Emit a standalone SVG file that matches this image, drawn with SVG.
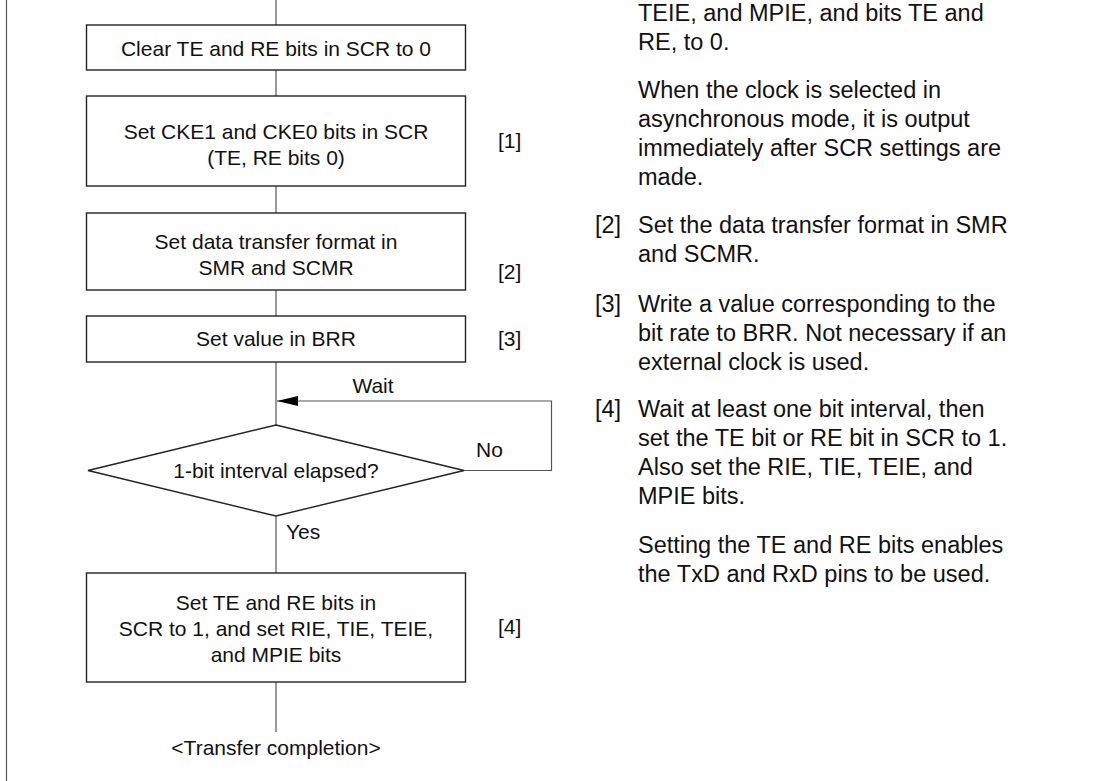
<svg xmlns="http://www.w3.org/2000/svg" width="1093" height="781" viewBox="0 0 1093 781">
<style>
text{font-family:"Liberation Sans",Arial,sans-serif;fill:#111}
.ft{font-size:21px}
.c{text-anchor:middle}
.rt{font-size:23.5px}
.box{fill:#fff;stroke:#222;stroke-width:1.4}
.ln{fill:none;stroke:#555;stroke-width:1.2}
</style>
<defs>
<marker id="ah" markerWidth="22" markerHeight="12" refX="21" refY="5" orient="auto" markerUnits="userSpaceOnUse">
<path d="M0,0 L21,5 L0,10 Z" fill="#000"/>
</marker>
</defs>
<rect width="1093" height="781" fill="#fff"/>
<line x1="6.5" y1="0" x2="6.5" y2="781" stroke="#555" stroke-width="1.2"/>
<g id="connectors">
<line class="ln" x1="276" y1="0" x2="276" y2="25"/>
<line class="ln" x1="276" y1="70" x2="276" y2="96"/>
<line class="ln" x1="276" y1="186" x2="276" y2="213"/>
<line class="ln" x1="276" y1="290" x2="276" y2="316"/>
<line class="ln" x1="276" y1="362" x2="276" y2="425"/>
<line class="ln" x1="276" y1="516" x2="276" y2="573"/>
<line class="ln" x1="276" y1="682" x2="276" y2="732"/>
<path class="ln" d="M464,470.5 H551.5 V401 H277" marker-end="url(#ah)"/>
<text class="ft c" x="373" y="393">Wait</text>
<text class="ft" x="476" y="457">No</text>
<text class="ft" x="286" y="539">Yes</text>
</g>
<g id="n1">
<rect class="box" x="86.5" y="25" width="379" height="45"/>
<text class="ft c" x="276" y="55.5">Clear TE and RE bits in SCR to 0</text>
</g>
<g id="n2">
<rect class="box" x="86.5" y="96" width="379" height="90"/>
<text class="ft c" x="276" y="138.5">Set CKE1 and CKE0 bits in SCR</text>
<text class="ft c" x="276" y="164.5">(TE, RE bits 0)</text>
<text class="ft" x="498" y="147.5">[1]</text>
</g>
<g id="n3">
<rect class="box" x="86.5" y="213" width="379" height="77"/>
<text class="ft c" x="276" y="248.5">Set data transfer format in</text>
<text class="ft c" x="276" y="274.5">SMR and SCMR</text>
<text class="ft" x="498" y="279">[2]</text>
</g>
<g id="n4">
<rect class="box" x="86.5" y="316" width="379" height="46"/>
<text class="ft c" x="276" y="346">Set value in BRR</text>
<text class="ft" x="498" y="345.5">[3]</text>
</g>
<g id="n5">
<polygon class="box" points="276,425 464,470.5 276,516 88,470.5"/>
<text class="ft c" x="276" y="478.3">1-bit interval elapsed?</text>
</g>
<g id="n6">
<rect class="box" x="86.5" y="573" width="379" height="109"/>
<text class="ft c" x="276" y="610">Set TE and RE bits in</text>
<text class="ft c" x="276" y="636">SCR to 1, and set RIE, TIE, TEIE,</text>
<text class="ft c" x="276" y="662">and MPIE bits</text>
<text class="ft" x="498" y="634">[4]</text>
</g>
<g id="n7">
<text class="ft c" x="276" y="755">&lt;Transfer completion&gt;</text>
</g>
<g id="notes">
<text class="rt" x="638" y="20.7">TEIE, and MPIE, and bits TE and</text>
<text class="rt" x="638" y="49.7">RE, to 0.</text>
<text class="rt" x="638" y="97.5">When the clock is selected in</text>
<text class="rt" x="638" y="126.5">asynchronous mode, it is output</text>
<text class="rt" x="638" y="155.5">immediately after SCR settings are</text>
<text class="rt" x="638" y="185">made.</text>
<text class="rt" x="595" y="233">[2]</text>
<text class="rt" x="638" y="233">Set the data transfer format in SMR</text>
<text class="rt" x="638" y="262">and SCMR.</text>
<text class="rt" x="595" y="311.5">[3]</text>
<text class="rt" x="638" y="311.5">Write a value corresponding to the</text>
<text class="rt" x="638" y="340.5">bit rate to BRR. Not necessary if an</text>
<text class="rt" x="638" y="369.5">external clock is used.</text>
<text class="rt" x="595" y="416.7">[4]</text>
<text class="rt" x="638" y="416.7">Wait at least one bit interval, then</text>
<text class="rt" x="638" y="445.7">set the TE bit or RE bit in SCR to 1.</text>
<text class="rt" x="638" y="475">Also set the RIE, TIE, TEIE, and</text>
<text class="rt" x="638" y="504.3">MPIE bits.</text>
<text class="rt" x="638" y="553.3">Setting the TE and RE bits enables</text>
<text class="rt" x="638" y="582">the TxD and RxD pins to be used.</text>
</g>
</svg>
